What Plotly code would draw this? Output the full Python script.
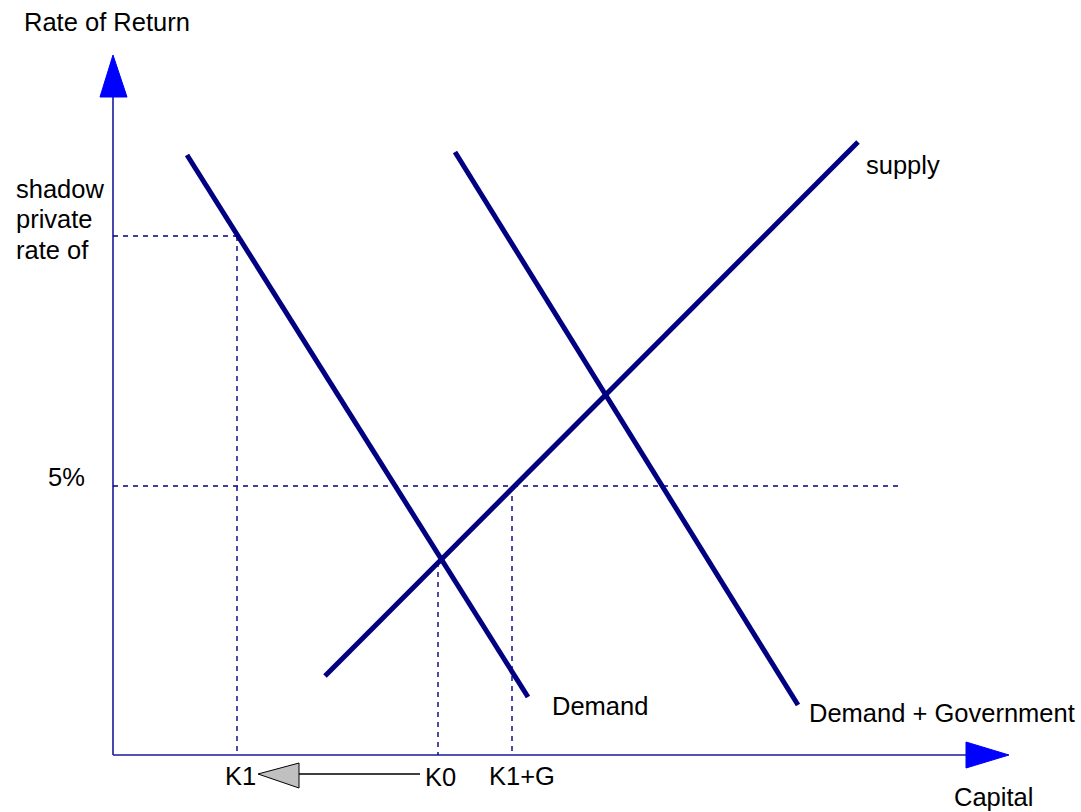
import plotly.graph_objects as go

# Chart coordinates: origin at the axes' intersection
demand_x = [74, 415]
demand_y = [600, 58]
demand_gov_x = [342, 685]
demand_gov_y = [603, 50]
supply_x = [212, 745]
supply_y = [79, 613]

shadow_rate = 519
rate_5 = 269
k1 = 124
k0 = 325
k0_rate = 193
k1g = 399
rate_line_end = 790

y_axis_top = 658
y_arrow_tip = 700
x_axis_end = 853
x_arrow_tip = 896

NAVY = "#000080"
AXIS = "#1a1a9a"
ARROW = "#0000ff"
FONT = "Liberation Sans, Arial, sans-serif"

fig = go.Figure()

def line(xs, ys, color, width, dash=None):
    fig.add_trace(go.Scatter(x=xs, y=ys, mode="lines",
                             line=dict(color=color, width=width, dash=dash),
                             hoverinfo="skip", showlegend=False))

# axes
line([0, 0], [0, y_axis_top], AXIS, 1.6)
line([0, x_axis_end], [0, 0], AXIS, 1.6)
# arrowheads
fig.add_trace(go.Scatter(x=[-13, 14, 0, -13], y=[y_axis_top, y_axis_top, y_arrow_tip, y_axis_top],
                         fill="toself", fillcolor=ARROW, mode="lines",
                         line=dict(color=ARROW, width=1), hoverinfo="skip", showlegend=False))
fig.add_trace(go.Scatter(x=[x_axis_end, x_axis_end, x_arrow_tip, x_axis_end], y=[13, -13, 0, 13],
                         fill="toself", fillcolor=ARROW, mode="lines",
                         line=dict(color=ARROW, width=1), hoverinfo="skip", showlegend=False))

# dashed guide lines
dash = "5px,5px"
line([0, k1], [shadow_rate, shadow_rate], NAVY, 1.4, dash)
line([k1, k1], [shadow_rate, 0], NAVY, 1.4, dash)
line([0, rate_line_end], [rate_5, rate_5], NAVY, 1.4, dash)
line([k0, k0], [k0_rate, 0], NAVY, 1.4, dash)
line([k1g, k1g], [rate_5, 0], NAVY, 1.4, dash)

# curves
line(demand_x, demand_y, NAVY, 5)
line(demand_gov_x, demand_gov_y, NAVY, 5)
line(supply_x, supply_y, NAVY, 5)

# gray shift arrow K0 -> K1
line([186, 307], [-19, -19], "#000000", 1.3)
fig.add_trace(go.Scatter(x=[186, 186, 145, 186], y=[-8, -33, -19, -8],
                         fill="toself", fillcolor="#c0c0c0", mode="lines",
                         line=dict(color="#000000", width=1), hoverinfo="skip", showlegend=False))

labels = [
    ("Rate of Return", -6, 733, "center"),
    ("shadow", -99, 566, "left"),
    ("private", -99, 536, "left"),
    ("rate of", -99, 505, "left"),
    ("5%", -47, 278, "center"),
    ("K1", 127, -21, "center"),
    ("K0", 327, -22, "center"),
    ("K1+G", 409, -21, "center"),
    ("Demand", 487, 49, "center"),
    ("Demand + Government", 829, 42, "center"),
    ("supply", 790, 590, "center"),
    ("Capital", 880, -42, "center"),
]
for txt, x, y, anchor in labels:
    fig.add_annotation(x=x, y=y, text=txt, showarrow=False, xanchor=anchor, yanchor="middle",
                       font=dict(family=FONT, size=25.5, color="#000000"))

fig.update_layout(
    width=1081, height=812,
    margin=dict(l=0, r=0, t=0, b=0),
    paper_bgcolor="white", plot_bgcolor="white",
    xaxis=dict(range=[-113, 968], visible=False, fixedrange=True),
    yaxis=dict(range=[-57, 755], visible=False, fixedrange=True),
    showlegend=False,
)
fig.write_html("out.html", config={"displayModeBar": False},
               post_script="document.body.style.margin='0';document.body.style.overflow='hidden';")
